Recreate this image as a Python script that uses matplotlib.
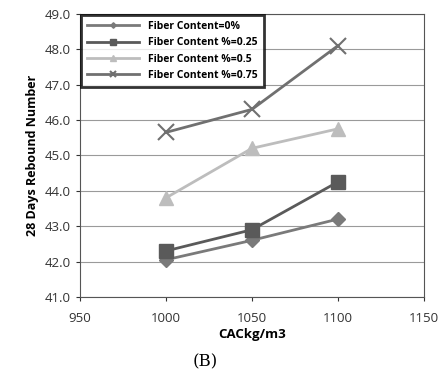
import matplotlib
matplotlib.use('Agg')
import matplotlib.pyplot as plt
from matplotlib.ticker import FormatStrFormatter

# data
cac = [1000, 1050, 1100]
fiber_0 = [42.05, 42.6, 43.2]
fiber_025 = [42.3, 42.9, 44.25]
fiber_05 = [43.8, 45.2, 45.75]
fiber_075 = [45.65, 46.3, 48.1]

labels = ['Fiber Content=0%', 'Fiber Content %=0.25',
          'Fiber Content %=0.5', 'Fiber Content %=0.75']

plt.rcParams['font.family'] = ['Open Sans', 'DejaVu Sans']

fig = plt.figure(figsize=(4.42, 3.74), dpi=100)
ax = fig.add_axes([0.181, 0.206, 0.778, 0.757])

ax.plot(cac, fiber_0, color='#7a7a7a', lw=2, marker='D', ms=7, label=labels[0])
ax.plot(cac, fiber_025, color='#5a5a5a', lw=2, marker='s', ms=10, label=labels[1])
ax.plot(cac, fiber_05, color='#bdbdbd', lw=2, marker='^', ms=10, label=labels[2])
ax.plot(cac, fiber_075, color='#707070', lw=2, marker='x', ms=12, mew=1.5, label=labels[3])

ax.set_xlim(950, 1150)
ax.set_ylim(41, 49)
ax.set_xticks([950, 1000, 1050, 1100, 1150])
ax.set_yticks([41, 42, 43, 44, 45, 46, 47, 48, 49])
ax.yaxis.set_major_formatter(FormatStrFormatter('%.1f'))
ax.grid(axis='y', color='#9a9a9a', lw=0.8)
ax.tick_params(labelsize=9.5, length=3, colors='#333333')
ax.tick_params(axis='x', pad=8)

for s in ax.spines.values():
    s.set_color('#555555')

ax.set_ylabel('28 Days Rebound Number', fontsize=9, fontweight='bold', labelpad=4)
ax.set_xlabel('CACkg/m3', fontsize=9.5, fontweight='bold', labelpad=2)
fig.text(0.465, 0.02, '(B)', fontsize=12, family='DejaVu Serif', ha='center')

leg = ax.legend(loc='upper left', fontsize=7.5, frameon=True, fancybox=False,
                borderaxespad=0.1, handlelength=5, markerscale=0.4,
                labelspacing=0.5, borderpad=0.6)
leg.get_frame().set_edgecolor('black')
leg.get_frame().set_linewidth(2)
for t in leg.get_texts():
    t.set_fontweight('bold')

plt.savefig('out.png', dpi=100)
